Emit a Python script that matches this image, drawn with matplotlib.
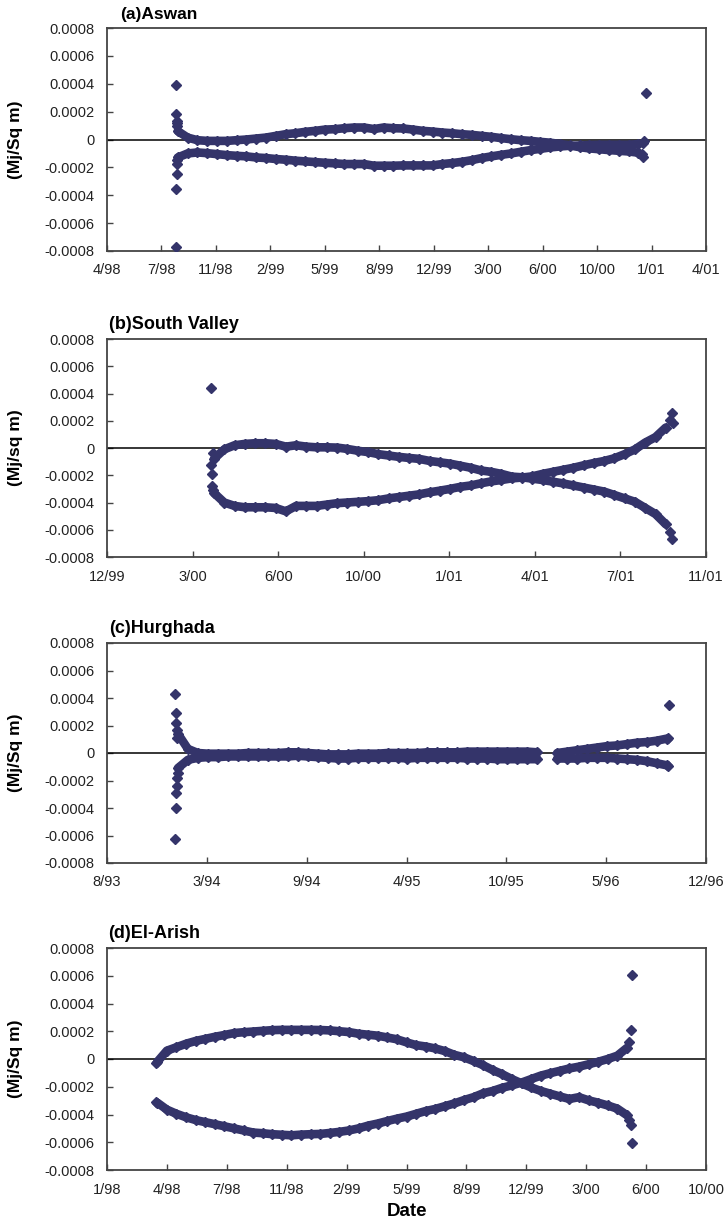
import numpy as np
import pandas as pd
import matplotlib
matplotlib.use("Agg")
import matplotlib.pyplot as plt

# values below are in units of 1e-5 Mj/Sq m
SCALE = 1e-5
NAVY = "#34346a"

# (a) Aswan
aswan_axis_start = "1998-04-17"
aswan_start = "1998-08-25"
aswan_step = 18
aswan_upper = [6, 1.4, -0.5, -1, -1, -1, -0.5, 0, 0.7, 1.4,
               2.6, 3.8, 4.5, 5.5, 6.2, 7.1, 7.4, 8.1, 8.6, 8.6,
               7.5, 8.6, 8.1, 7.9, 7.1, 6.2, 5.7, 5, 4.5, 3.8,
               3.3, 2.6, 1.9, 1, 0.2, -0.5, -1, -1.7, -2.3, -3.2,
               -4.3, -5.5, -6.4, -7, -7.6, -8.1, -8.6, -9.5]
aswan_lower = [-12.9, -10, -9.3, -9.8, -10.5, -11.2, -11.7, -12.1, -12.9, -13.3,
               -14, -14.5, -15.2, -15.7, -16.2, -16.7, -17.1, -17.6, -17.6, -17.6,
               -18.8, -18.8, -18.8, -18.6, -18.6, -18.6, -18.6, -17.6, -16.9, -16,
               -14.8, -13.3, -12.1, -11, -10, -8.8, -7.6, -6.7, -5.7, -5,
               -4.5, -4.3, -4, -3.8, -3.8, -3.8, -3.8, -3.3]
aswan_extra_dates = ["1998-08-21", "1998-08-21", "1998-08-22", "1998-08-22", "1998-08-23",
                     "1998-08-23", "1998-08-24", "1998-08-24", "1998-08-24", "1998-08-24",
                     "2000-12-25", "2000-12-26", "2000-12-27", "2000-12-28", "2001-01-01"]
aswan_extra_vals = [39, -77, 18, -35.5, 11.7, -24.8, 9.8, -17.6, 13, -15,
                    -10.5, -12.4, -2.5, -1, 33.6]

# (b) South Valley
valley_axis_start = "1999-12-07"
valley_start = "2000-04-10"
valley_step = 12
valley_upper = [-8, -1, 2, 3, 3.5, 3.5, 3, 1, 2, 1,
                0.5, 0.5, 0.3, -0.7, -2, -3, -4.5, -5.5, -6.5, -7.3,
                -8, -9.5, -10.5, -11.5, -13, -14.5, -16.5, -17.5, -19, -21,
                -21.5, -22.5, -23.5, -24.7, -26, -27.5, -29, -30.5, -32, -34.5,
                -37, -39.5, -44, -48.5, -56]
valley_lower = [-33, -40, -42.5, -43.5, -43.5, -43.5, -44, -46.5, -42.5, -42.5,
                -42.5, -41.5, -40.5, -40, -39.5, -39, -38.3, -37, -36, -35,
                -34, -32.5, -31.3, -30, -28.5, -27.5, -25.9, -24.5, -23.5, -22.3,
                -21.7, -20.8, -19, -17.5, -16, -14.5, -12.7, -11, -9.5, -7.5,
                -4.5, -1, 4, 8, 15]
valley_extra_dates = ["2000-04-06", "2000-04-07", "2000-04-08", "2000-04-08", "2000-04-09",
                      "2000-04-09", "2001-09-25", "2001-09-27", "2001-09-25", "2001-09-27",
                      "2001-09-29"]
valley_extra_vals = [43.8, -12.5, -19, -28, -31, -4, -61.4, -67, 20.5, 25.4, 18]

# (c) Hurghada  (nan = missing days)
hurg_axis_start = "1993-08-20"
hurg_start = "1994-01-09"
hurg_step = 20
hurg_upper = [14, 3, 0, -0.5, -0.5, -0.5, -0.5, 0, 0, 0,
              0, 0.5, 0.5, 0, -0.5, -1, -1, -1, -0.5, -0.5,
              -0.5, 0, 0, 0, 0, 0.5, 0.5, 0.5, 0.5, 1,
              1, 1, 1, 1, 1, 1, 0.5, np.nan, 0, 1,
              2, 3, 4, 5, 5.5, 6.5, 7.5, 8, 9, 10.5]
hurg_lower = [-11, -5, -3.5, -3, -3, -2.5, -2.5, -2.5, -2.5, -2.5,
              -2.5, -2.5, -2, -2.5, -3, -3.5, -4, -4, -3.5, -3.5,
              -3.5, -3.5, -3.5, -4, -3.5, -3.5, -3.5, -3.5, -3.5, -4,
              -4, -4, -4.5, -4.5, -4.5, -4.5, -4.5, np.nan, -4, -4,
              -4, -3.5, -3.5, -3.5, -4, -4.5, -5, -6, -7.5, -9]
hurg_extra_dates = ["1994-01-04", "1994-01-04", "1994-01-05", "1994-01-05", "1994-01-06",
                    "1994-01-06", "1994-01-07", "1994-01-07", "1994-01-08", "1994-01-08",
                    "1994-01-09", "1996-09-17", "1996-09-17", "1996-09-19"]
hurg_extra_vals = [42.7, -62.2, 28.9, -39.8, 21.7, -28.9, 16.9, -24.1, -18.1, 10.8,
                   -14.5, 10.8, -9.6, 34.9]

# (d) El-Arish
arish_axis_start = "1998-01-07"
arish_start = "1998-04-01"
arish_step = 16
arish_upper = [-2, 6, 8.5, 11, 13, 14.5, 16, 17.3, 18.7, 19.3,
               19.8, 20.3, 20.8, 21, 21, 21, 21, 20.9, 20.6, 20,
               19.4, 18.2, 17.5, 16.8, 15.5, 14.2, 12, 10, 9, 7.6,
               5.7, 3, 1.2, -1.5, -4.5, -8, -11, -14.5, -17.5, -20.5,
               -23, -25, -27, -28.8, -27.5, -29.8, -31.5, -33.5, -35.8, -40.5]
arish_lower = [-31.5, -36.5, -39.5, -42, -44, -45.5, -47, -48.5, -50, -51.5,
               -53, -53.5, -54.2, -54.6, -55, -54.5, -54.2, -54, -53.3, -52.5,
               -51.5, -50, -48, -46.5, -44.7, -43, -41.5, -39.5, -37.5, -36,
               -34, -32, -29.6, -27.5, -24.7, -23, -20.7, -19, -17, -14.5,
               -12, -10.2, -8.5, -6.8, -5.5, -3.8, -2, 0, 2.4, 8]
arish_extra_dates = ["1998-03-29", "1998-03-29", "2000-05-28", "2000-05-30", "2000-06-01",
                     "2000-05-28", "2000-05-30", "2000-06-01"]
arish_extra_vals = [-31, -3, -44.2, -47.7, -60.4, 12, 20.8, 60.4]

panels = [
    ("(a)Aswan", "(Mj/Sq m)", aswan_axis_start, 100, 12, aswan_start, aswan_step,
     aswan_upper, aswan_lower, aswan_extra_dates, aswan_extra_vals),
    ("(b)South Valley", "(Mj/sq m)", valley_axis_start, 100, 8, valley_start, valley_step,
     valley_upper, valley_lower, valley_extra_dates, valley_extra_vals),
    ("(c)Hurghada", "(Mj/Sq m)", hurg_axis_start, 200, 7, hurg_start, hurg_step,
     hurg_upper, hurg_lower, hurg_extra_dates, hurg_extra_vals),
    ("(d)El-Arish", "(Mj/Sq m)", arish_axis_start, 100, 11, arish_start, arish_step,
     arish_upper, arish_lower, arish_extra_dates, arish_extra_vals),
]

# axes boxes in pixels (top, bottom) ; left/right shared
boxes = [(28, 251), (339, 557), (643, 863), (948, 1170)]
title_dx = [13, 2, 2, 1]
W, H = 725, 1222
left, right = 107, 706

plt.rcParams['font.family'] = ['Liberation Sans', 'DejaVu Sans']
fig = plt.figure(figsize=(W / 100, H / 100), dpi=100)

yt = np.arange(-8, 9, 2) * 1e-4
ytl = ["0" if abs(v) < 1e-9 else f"{v:.4f}" for v in yt]

for i, (title, ylab, ax_start, tstep, nt, s_start, s_step, up, lo, ed, ev) in enumerate(panels):
    top, bot = boxes[i]
    ax = fig.add_axes([left / W, 1 - bot / H, (right - left) / W, (bot - top) / H])

    dates = pd.date_range(s_start, periods=len(up), freq=f"{s_step}D")
    for vals in (up, lo):
        ax.plot(dates, np.array(vals, dtype=float) * SCALE, color=NAVY, lw=6.2,
                marker="D", ms=5.6, solid_joinstyle="round", solid_capstyle="round",
                zorder=3)
    ax.plot(pd.to_datetime(ed), np.array(ev) * SCALE, ls="none", marker="D",
            ms=4.8, color=NAVY, zorder=3)

    ax.axhline(0, color="black", lw=1.1, zorder=2)

    ticks = pd.date_range(ax_start, periods=nt, freq=f"{tstep}D")
    ax.set_xticks(ticks)
    ax.set_xticklabels([f"{t.month}/{t:%y}" for t in ticks])
    ax.set_xlim(ticks[0], ticks[-1])
    ax.set_ylim(-0.0008, 0.0008)
    ax.set_yticks(yt)
    ax.set_yticklabels(ytl)
    ax.tick_params(direction="in", length=4, width=1, color="#444444",
                   labelsize=10.5, labelcolor="#222222", pad=9)
    for sp in ax.spines.values():
        sp.set_color("#444444")
        sp.set_linewidth(1.3)

    ax.set_ylabel(ylab, fontsize=12.5, fontweight="bold")
    ax.yaxis.set_label_coords(-0.140, 0.5)

    ax.annotate(title, xy=(0, 1), xycoords="axes fraction",
                xytext=(title_dx[i] * 0.72, 4), textcoords="offset points",
                ha="left", va="bottom", fontsize=12.5 if i == 0 else 13,
                fontweight="bold")

    if i == 3:
        ax.set_xlabel("Date", fontsize=13.5, fontweight="bold", labelpad=5)

fig.savefig("out.png", dpi=100)
